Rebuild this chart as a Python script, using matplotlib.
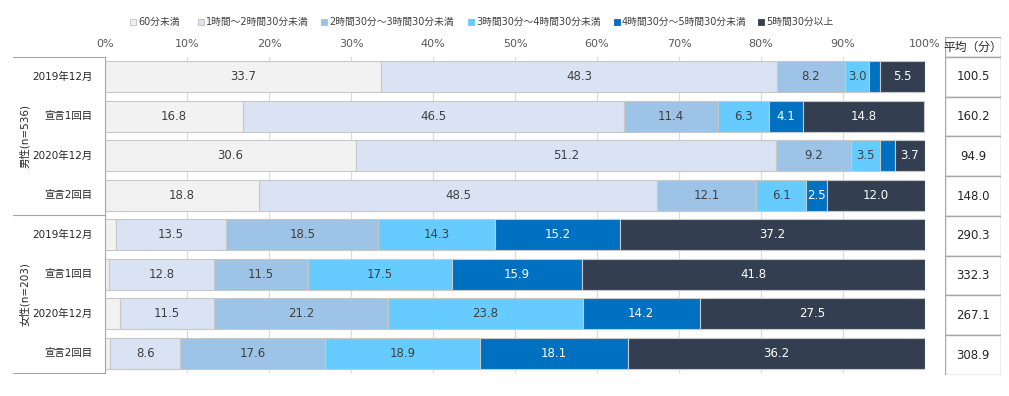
import matplotlib.pyplot as plt
from matplotlib.patches import Rectangle
from matplotlib.lines import Line2D

plt.rcParams['font.family'] = ['DejaVu Sans', 'Noto Sans CJK JP']

# Data
rows = ['2019年12月', '宣言1回目', '2020年12月', '宣言2回目',
        '2019年12月', '宣言1回目', '2020年12月', '宣言2回目']
groups = ['男性(n=536)', '女性(n=203)']
series = ['60分未満', '1時間～2時間30分未満', '2時間30分～3時間30分未満',
          '3時間30分～4時間30分未満', '4時間30分～5時間30分未満', '5時間30分以上']
under60 = [33.7, 16.8, 30.6, 18.8, 1.3, 0.5, 1.8, 0.6]
h1_2h30 = [48.3, 46.5, 51.2, 48.5, 13.5, 12.8, 11.5, 8.6]
h2h30_3h30 = [8.2, 11.4, 9.2, 12.1, 18.5, 11.5, 21.2, 17.6]
h3h30_4h30 = [3.0, 6.3, 3.5, 6.1, 14.3, 17.5, 23.8, 18.9]
h4h30_5h30 = [1.3, 4.1, 1.8, 2.5, 15.2, 15.9, 14.2, 18.1]
over5h30 = [5.5, 14.8, 3.7, 12.0, 37.2, 41.8, 27.5, 36.2]
averages = ['100.5', '160.2', '94.9', '148.0', '290.3', '332.3', '267.1', '308.9']
values = [under60, h1_2h30, h2h30_3h30, h3h30_4h30, h4h30_5h30, over5h30]

colors = ['#F2F2F2', '#DAE3F3', '#9DC3E6', '#66CCFF', '#0070C0', '#333F50']
text_colors = ['#404040', '#404040', '#404040', '#404040', 'white', 'white']

W, H = 1009, 396
fig = plt.figure(figsize=(W / 100, H / 100), dpi=100)

def fx(px):
    return px / W

def fy(py):
    return 1 - py / H

# Main bar axes
ax = fig.add_axes([fx(105), fy(373), fx(925) - fx(105), fy(57) - fy(373)])
ypos = list(range(len(rows)))
left = [0] * len(rows)
for vals, col, tc in zip(values, colors, text_colors):
    ax.barh(ypos, vals, left=left, height=0.78, color=col,
            edgecolor='#C8C8C8', linewidth=0.8, zorder=2)
    for y, v, l in zip(ypos, vals, left):
        if v >= 2:
            ax.text(l + v / 2, y, f'{v:.1f}', ha='center', va='center',
                    fontsize=8.5, color=tc, zorder=3)
    left = [a + b for a, b in zip(left, vals)]

ax.set_xlim(0, 100)
ax.set_ylim(7.5, -0.5)
ax.xaxis.tick_top()
ax.set_xticks(range(0, 101, 10))
ax.set_xticklabels([f'{t}%' for t in range(0, 101, 10)], fontsize=8, color='#595959')
ax.tick_params(axis='x', length=0, pad=6)
ax.set_yticks([])
ax.grid(axis='x', color='#D9D9D9', linewidth=0.8, zorder=0)
for s in ['top', 'right', 'bottom']:
    ax.spines[s].set_visible(False)
ax.spines['left'].set_color('#A6A6A6')
ax.spines['left'].set_linewidth(0.8)

# Row labels and group labels
for y, lab in zip(ypos, rows):
    ax.text(-1.5, y, lab, ha='right', va='center', fontsize=7.5, color='#262626')
ax.text(-9.75, 1.5, groups[0], rotation=90, ha='center', va='center',
        fontsize=7.5, color='#262626')
ax.text(-9.75, 5.5, groups[1], rotation=90, ha='center', va='center',
        fontsize=7.5, color='#262626')
for yl in [-0.5, 3.5, 7.5]:
    ax.add_line(Line2D([-11.2, 0], [yl, yl], color='#A6A6A6', linewidth=0.8,
                       clip_on=False, transform=ax.transData))

# Average table
tax = fig.add_axes([fx(945), fy(375), fx(1001) - fx(945), fy(37) - fy(375)])
tax.set_xlim(0, 1)
tax.set_ylim(7.5, -1.0)
tax.axis('off')
tax.add_patch(Rectangle((0, -1.0), 1, 0.5, facecolor='white', edgecolor='#A6A6A6',
                        linewidth=1.0))
tax.text(0.5, -0.75, '平均（分）', ha='center', va='center', fontsize=8.5, color='#262626')
for y, a in zip(ypos, averages):
    tax.add_patch(Rectangle((0, y - 0.5), 1, 1, facecolor='white',
                            edgecolor='#A6A6A6', linewidth=1.0))
    tax.text(0.5, y, a, ha='center', va='center', fontsize=8.5, color='#262626')

# Legend
leg_x = [133, 201, 324, 471, 617, 761]
for px, lab, col in zip(leg_x, series, colors):
    fig.patches.append(Rectangle((fx(px - 3), fy(25)), fx(6), fy(19) - fy(25),
                                 transform=fig.transFigure, facecolor=col,
                                 edgecolor='#BFBFBF' if col in ('#F2F2F2', '#DAE3F3') else col,
                                 linewidth=0.6))
    fig.text(fx(px + 5), fy(22), lab, ha='left', va='center', fontsize=7, color='#404040')

plt.savefig('out.png', dpi=100)
